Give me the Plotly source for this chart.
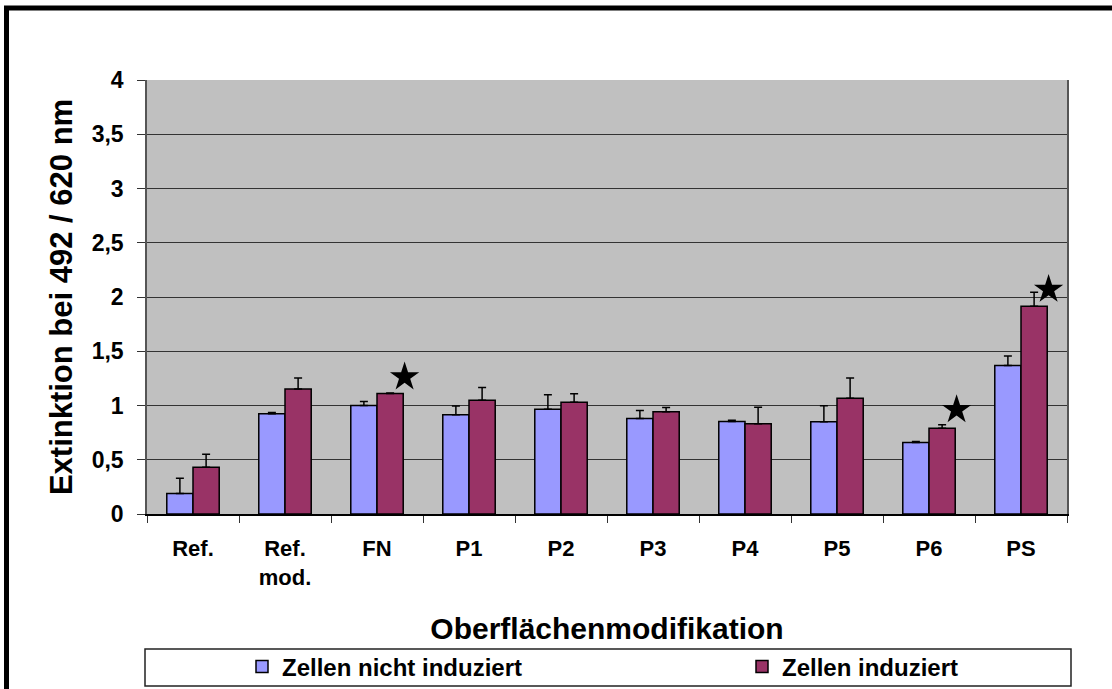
import plotly.graph_objects as go

categories = ["Ref.", "Ref.<br>mod.", "FN", "P1", "P2", "P3", "P4", "P5", "P6", "PS"]
nicht_induziert = [0.19, 0.925, 1.0, 0.915, 0.965, 0.88, 0.853, 0.85, 0.66, 1.368]
nicht_induziert_err = [0.14, 0.01, 0.037, 0.08, 0.135, 0.074, 0.01, 0.147, 0.009, 0.089]
induziert = [0.43, 1.153, 1.11, 1.049, 1.031, 0.942, 0.831, 1.067, 0.791, 1.914]
induziert_err = [0.12, 0.10, 0.006, 0.117, 0.077, 0.04, 0.153, 0.187, 0.031, 0.129]
star_categories = [2, 8, 9]
star_values = [1.263, 0.961, 2.07]
y_ticks = [0, 0.5, 1, 1.5, 2, 2.5, 3, 3.5, 4]

FONT = "Arial, 'Liberation Sans', sans-serif"
STAR_OFFSET = 0.3
x_idx = list(range(len(categories)))

fig = go.Figure()
fig.add_trace(go.Bar(
    x=x_idx, y=nicht_induziert, name="<b>Zellen nicht induziert</b>",
    legendwidth=455,
    marker=dict(color="#9999FF", line=dict(color="black", width=1.5)),
    error_y=dict(type="data", array=nicht_induziert_err, symmetric=False,
                 arrayminus=[0] * len(categories), color="black", thickness=1.5, width=4),
))
fig.add_trace(go.Bar(
    x=x_idx, y=induziert, name="<b>Zellen induziert</b>",
    marker=dict(color="#993366", line=dict(color="black", width=1.5)),
    error_y=dict(type="data", array=induziert_err, symmetric=False,
                 arrayminus=[0] * len(categories), color="black", thickness=1.5, width=4),
))
fig.add_trace(go.Scatter(
    x=[c + STAR_OFFSET for c in star_categories], y=star_values, mode="markers",
    marker=dict(symbol="star", size=22, color="black"), showlegend=False, hoverinfo="skip",
))

px_l, px_r, px_t, px_b = 147, 1067, 80, 514
pw, ph = px_r - px_l, px_b - px_t


def px_x(p):
    return (p - px_l) / pw


def px_y(p):
    return (px_b - p) / ph


fig.update_layout(
    width=1112, height=689,
    margin=dict(l=px_l, r=1112 - px_r, t=px_t, b=689 - px_b, autoexpand=False),
    paper_bgcolor="white", plot_bgcolor="#C0C0C0",
    barmode="group", bargap=0.43, bargroupgap=0,
    separators=", ",
    font=dict(family=FONT, color="black"),
    showlegend=True,
    legend=dict(orientation="h", x=px_x(242), y=px_y(667), xanchor="left", yanchor="middle",
                bgcolor="rgba(0,0,0,0)", borderwidth=0,
                font=dict(size=24, family=FONT), itemwidth=30),
    xaxis=dict(
        range=[-0.5, len(categories) - 0.5], automargin=False,
        tickvals=x_idx, ticktext=["<b>%s</b>" % c.replace("<br>", "</b><br><b>") for c in categories],
        ticks="", tickfont=dict(size=22, family=FONT), ticklabelstandoff=14,
        minor=dict(tickvals=[i - 0.5 for i in range(len(categories) + 1)], ticks="outside",
                   ticklen=7, tickcolor="#333333", showgrid=False),
        showline=True, linecolor="black", linewidth=1.5, mirror=False,
        showgrid=False, zeroline=False,
        title=dict(text="<b>Oberflächenmodifikation</b>", font=dict(size=30, family=FONT), standoff=29),
    ),
    yaxis=dict(
        range=[0, 4], tickvals=y_ticks, ticks="outside", ticklen=8, tickcolor="#333333",
        automargin=False,
        tickfont=dict(size=23, family=FONT, weight="bold"), ticklabelstandoff=9,
        showline=True, linecolor="#555555", linewidth=1.5, mirror=True,
        showgrid=True, gridcolor="#333333", gridwidth=1.2, zeroline=False,
        title=dict(text="<b>Extinktion bei 492 / 620 nm</b>", font=dict(size=31, family=FONT), standoff=10),
    ),
    shapes=[
        dict(type="rect", xref="paper", yref="paper", x0=px_x(145), x1=px_x(1071),
             y0=px_y(686), y1=px_y(649), line=dict(color="#222222", width=1.5), fillcolor="rgba(0,0,0,0)",
             layer="below"),
        dict(type="rect", xref="paper", yref="paper", x0=px_x(6.5), x1=px_x(1140),
             y0=px_y(720), y1=px_y(8), line=dict(color="black", width=5), fillcolor="rgba(0,0,0,0)"),
    ],
)

fig.write_html("out.html", config={"displayModeBar": False},
               post_script="document.body.style.margin='0px';document.body.style.overflow='hidden';")
